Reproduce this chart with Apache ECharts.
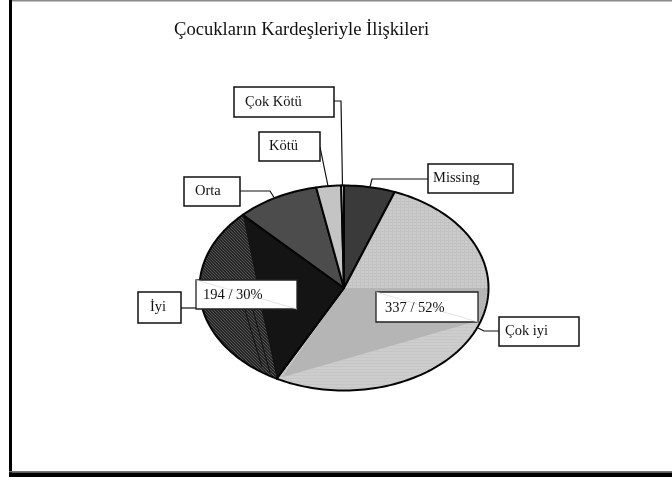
<!DOCTYPE html>
<html>
<head>
<meta charset="utf-8">
<style>html,body{margin:0;padding:0;background:#fff}#c{width:672px;height:477px}</style>
<script src="https://cdn.jsdelivr.net/npm/echarts@6/dist/echarts.min.js"></script>
</head>
<body>
<div id="c"></div>
<script>
var titleText = 'Çocukların Kardeşleriyle İlişkileri';
var categories = ['Missing', 'Çok iyi', 'İyi', 'Orta', 'Kötü', 'Çok Kötü'];
var counts = [37, 337, 194, 60, 18, 2];
var percents = [6, 52, 30, 9, 3, 0];
var sliceColors = ['#3a3a3a', '#c6c6c6', '#141414', '#4c4c4c', '#c4c4c4', '#ffffff'];

// layout only
var CX = 344, CY = 288, RX = 144.5, RY = 102.5;
var SERIF = '"Liberation Serif","Times New Roman",serif';
var total = counts.reduce(function (a, b) { return a + b; }, 0);

function pt(deg, f) {
  var a = deg * Math.PI / 180;
  f = f === undefined ? 1 : f;
  return [CX + RX * f * Math.sin(a), CY - RY * f * Math.cos(a)];
}
function arc(a0, a1) {
  var out = [], n = Math.max(2, Math.ceil((a1 - a0) / 1.5));
  for (var i = 0; i <= n; i++) out.push(pt(a0 + (a1 - a0) * i / n));
  return out;
}
function makePattern(w, h, paint) {
  var cv = document.createElement('canvas');
  cv.width = w; cv.height = h;
  paint(cv.getContext('2d'));
  return { image: cv, repeat: 'repeat' };
}
var hatch = makePattern(3, 3, function (g) {
  g.fillStyle = '#262626'; g.fillRect(0, 0, 3, 3);
  g.fillStyle = '#555555';
  g.fillRect(0, 0, 1, 1); g.fillRect(1, 1, 1, 1); g.fillRect(2, 2, 1, 1);
});
var weave = makePattern(4, 3, function (g) {
  g.fillStyle = '#cbcbcb'; g.fillRect(0, 0, 4, 3);
  g.fillStyle = '#c2c2c2'; g.fillRect(0, 0, 4, 1); g.fillRect(0, 1, 1, 2);
});
var weaveLow = makePattern(4, 3, function (g) {
  g.fillStyle = '#cdcdcd'; g.fillRect(0, 0, 4, 3);
  g.fillStyle = '#c6c6c6'; g.fillRect(0, 0, 4, 1);
});

function renderSlice(params, api) {
  var idx = params.dataIndex;
  var start = 0;
  for (var i = 0; i < idx; i++) start += counts[i];
  var a0 = start / total * 360;
  var a1 = a0 + api.value(1) / total * 360;
  var outline = [[CX, CY]].concat(arc(a0, a1));
  var kids = [];
  var fill = sliceColors[idx];
  if (idx === 1) fill = weave;
  kids.push({ type: 'polygon', shape: { points: outline }, style: { fill: fill, stroke: 'none' } });
  if (idx === 1) {
    // lighter lower fan and darker middle band of the slice
    var mid = 90, low = 108;
    kids.push({ type: 'polygon', shape: { points: arc(low - 2, a1) }, style: { fill: weaveLow } });
    kids.push({ type: 'polygon', shape: { points: [[CX, CY], pt(mid), pt(low), pt(a1 - 1.5, 0.97)] }, style: { fill: '#b5b5b5' } });
  }
  if (idx === 2) {
    // textured outer segment of the slice
    kids.push({ type: 'polygon', shape: { points: arc(a0, a1) }, style: { fill: hatch } });
  }
  kids.push({ type: 'polygon', shape: { points: outline }, style: { fill: 'none', stroke: '#050505', lineWidth: 2, lineJoin: 'round' } });
  return { type: 'group', children: kids };
}

// label boxes: [left, top, right, bottom, textLeft]
var boxLayout = {
  'Çok Kötü': [234, 87, 334, 117, 245],
  'Kötü': [259, 132, 320, 161, 269],
  'Orta': [184, 177, 240, 206, 195],
  'Missing': [428, 164, 513, 193, 433],
  'Çok iyi': [499, 317, 579, 346, 505],
  'İyi': [138, 292, 181, 323, 150]
};
var leaderLayout = {
  'Çok Kötü': [[334, 101], [341, 101], [342.5, 186]],
  'Kötü': [[320, 147], [328, 186]],
  'Orta': [[240, 191], [270, 191], [275, 199]],
  'Missing': [[428, 179], [372, 179], [370, 187]],
  'Çok iyi': [[499, 331], [484, 331], [478, 328]],
  'İyi': [[181, 308], [198, 308]]
};
var valueLayout = {
  'Çok iyi': [376, 292, 478, 322, 385],
  'İyi': [196, 280, 297, 309, 203]
};
var hatchRules = [
  [[245, 310], [262, 367]],
  [[253, 310], [270, 373]],
  [[262, 310], [278, 377]]
];

function boxEls(b, label, lw, stroke, dy) {
  return [
    { type: 'rect', z: 20, shape: { x: b[0], y: b[1], width: b[2] - b[0], height: b[3] - b[1] },
      style: { fill: '#fff', stroke: stroke, lineWidth: lw } },
    { type: 'text', z: 22, x: b[4], y: (b[1] + b[3]) / 2 + dy,
      style: { text: label, fill: '#111', font: '14.5px ' + SERIF, verticalAlign: 'middle', align: 'left' } }
  ];
}
var graphics = [
  { type: 'rect', z: 1, shape: { x: 12, y: 0, width: 660, height: 1.5 }, style: { fill: '#8a8a8a' } },
  { type: 'rect', z: 1, shape: { x: 9, y: 0, width: 3, height: 477 }, style: { fill: '#000' } },
  { type: 'rect', z: 1, shape: { x: 9, y: 471, width: 663, height: 1.5 }, style: { fill: '#777' } },
  { type: 'rect', z: 1, shape: { x: 9, y: 472.5, width: 663, height: 4.5 }, style: { fill: '#000' } }
];
hatchRules.forEach(function (r) {
  graphics.push({ type: 'polyline', z: 15, shape: { points: r }, style: { fill: 'none', stroke: '#111', lineWidth: 1 } });
});
categories.forEach(function (name) {
  graphics.push({ type: 'polyline', z: 18, shape: { points: leaderLayout[name] }, style: { fill: 'none', stroke: '#111', lineWidth: 1.2 } });
  graphics = graphics.concat(boxEls(boxLayout[name], name, 1.5, '#111', 0));
  if (valueLayout[name]) {
    var v = valueLayout[name], i = categories.indexOf(name);
    graphics = graphics.concat(boxEls(v, counts[i] + ' / ' + percents[i] + '%', 1.3, '#222', 1));
    graphics.push({ type: 'line', z: 21, shape: { x1: v[0], y1: v[1], x2: v[2], y2: v[3] }, style: { stroke: '#dcdcdc', lineWidth: 0.8 } });
  }
});

var chart = echarts.init(document.getElementById('c'), null, { renderer: 'canvas' });
chart.setOption({
  animation: false,
  backgroundColor: '#fff',
  title: { text: titleText, left: 169, top: 16,
    textStyle: { fontFamily: SERIF, fontSize: 18.6, fontWeight: 'normal', color: '#111' } },
  graphic: { elements: graphics },
  series: [{
    type: 'custom',
    coordinateSystem: 'none',
    z: 5,
    silent: true,
    renderItem: renderSlice,
    data: categories.map(function (c, i) { return [c, counts[i]]; })
  }]
});
</script>
</body>
</html>
